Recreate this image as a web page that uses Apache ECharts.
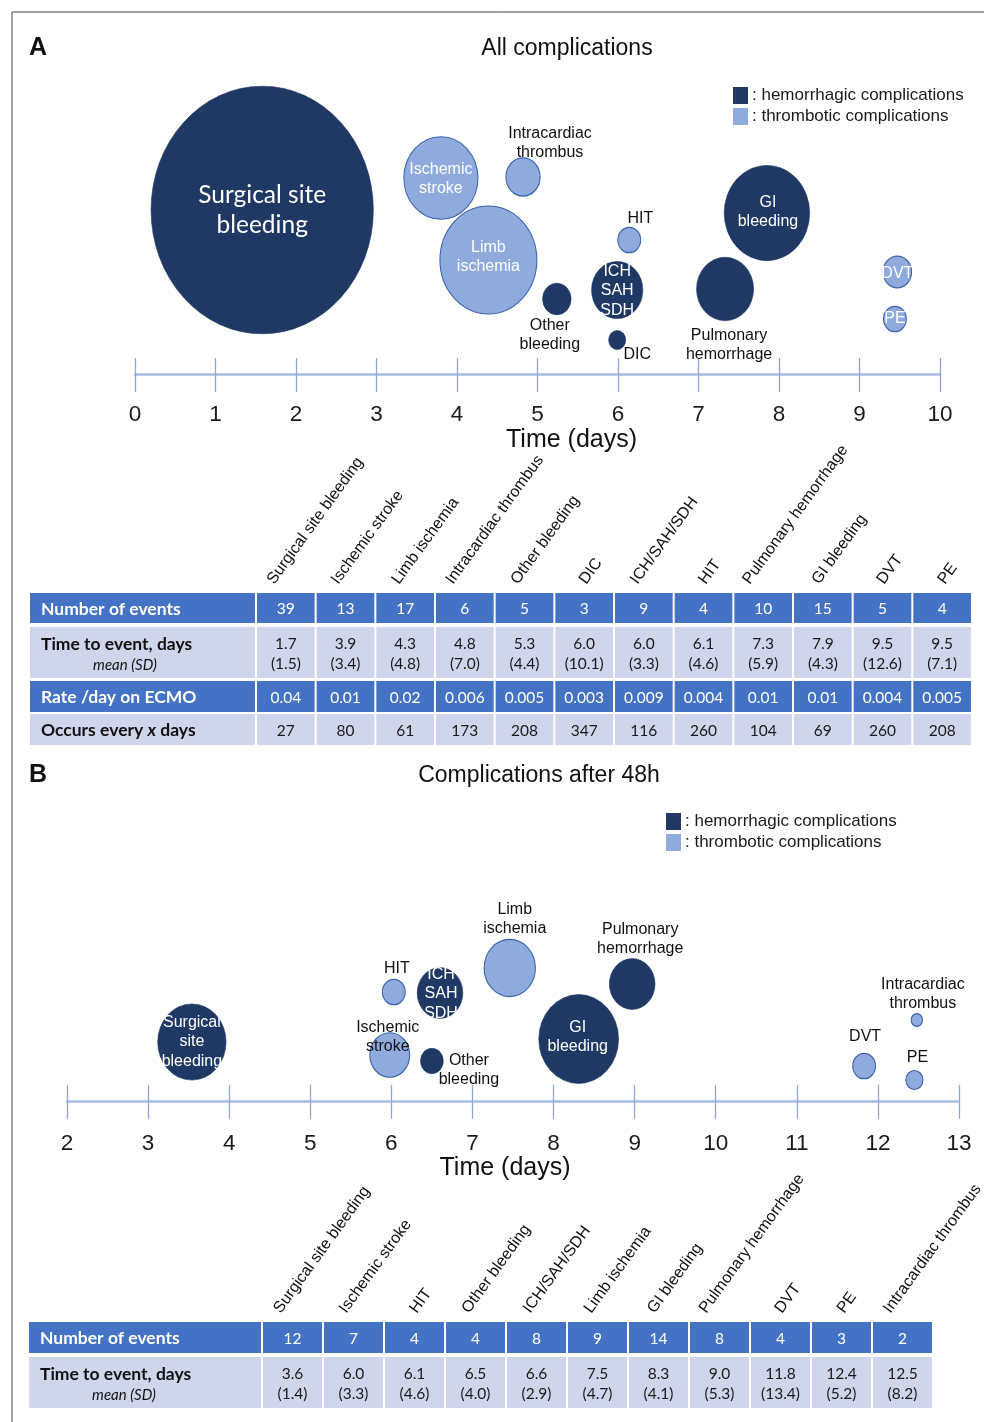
<!DOCTYPE html>
<html><head><meta charset="utf-8">
<script src="https://cdn.jsdelivr.net/npm/echarts@6/dist/echarts.min.js"></script>
<style>html,body{margin:0;padding:0;background:#fff}#c{width:984px;height:1422px}</style>
</head><body><div id="c"></div>
<script>
// ---------------- Panel A: all complications ----------------
const aNames = ['Surgical site bleeding','Ischemic stroke','Limb ischemia','Intracardiac thrombus','Other bleeding','DIC','ICH/SAH/SDH','HIT','Pulmonary hemorrhage','GI bleeding','DVT','PE'];
const aBubbleText = ['Surgical site\nbleeding','Ischemic\nstroke','Limb\nischemia','Intracardiac\nthrombus','Other\nbleeding','DIC','ICH\nSAH\nSDH','HIT','Pulmonary\nhemorrhage','GI\nbleeding','DVT','PE'];
const aType = ['h','t','t','t','h','h','h','t','h','h','t','t'];
const aEvents = [39,13,17,6,5,3,9,4,10,15,5,4];
const aBubbleX = [1.58,3.80,4.39,4.82,5.24,5.99,5.99,6.14,7.33,7.85,9.47,9.44];
const aBubbleY = [164,196,114,197,75,34,84,134,85,161,102,55];
const aMean = ['1.7','3.9','4.3','4.8','5.3','6.0','6.0','6.1','7.3','7.9','9.5','9.5'];
const aSD = ['1.5','3.4','4.8','7.0','4.4','10.1','3.3','4.6','5.9','4.3','12.6','7.1'];
const aRate = ['0.04','0.01','0.02','0.006','0.005','0.003','0.009','0.004','0.01','0.01','0.004','0.005'];
const aEvery = [27,80,61,173,208,347,116,260,104,69,260,208];
const aTicks = [0,10,1];

// ---------------- Panel B: complications after 48h ----------------
const bNames = ['Surgical site bleeding','Ischemic stroke','HIT','Other bleeding','ICH/SAH/SDH','Limb ischemia','GI bleeding','Pulmonary hemorrhage','DVT','PE','Intracardiac thrombus'];
const bBubbleText = ['Surgical\nsite\nbleeding','Ischemic\nstroke','HIT','Other\nbleeding','ICH\nSAH\nSDH','Limb\nischemia','GI\nbleeding','Pulmonary\nhemorrhage','DVT','PE','Intracardiac\nthrombus'];
const bType = ['h','t','t','h','h','t','h','h','t','t','t'];
const bEvents = [12,7,4,4,8,9,14,8,4,3,2];
const bBubbleX = [3.54,5.98,6.03,6.50,6.60,7.46,8.31,8.97,11.83,12.45,12.48];
const bBubbleY = [59,46,109,40,108,133,62,117,35,21,81];
const bMean = ['3.6','6.0','6.1','6.5','6.6','7.5','8.3','9.0','11.8','12.4','12.5'];
const bSD = ['1.4','3.3','4.6','4.0','2.9','4.7','4.1','5.3','13.4','5.2','8.2'];
const bTicks = [2,13,1];

const rowLabels = ['Number of events','Time to event, days','Rate /day on ECMO','Occurs every x days'];
const legendNames = ['hemorrhagic complications','thrombotic complications'];

// ---------------- styles / layout ----------------
const HEM = '#1f3864', THR = '#8faadc', THR_LINE = '#3a62ab';
const BLUE = '#4472c4', LIGHT = '#cfd5ea';
const ARIAL = '"Liberation Sans", Arial, sans-serif';
const CAL = 'Lato, "Open Sans", sans-serif';
const SIZE_W = 5.7, SIZE_H = 6.35;

// label placement relative to bubble centre: [dx, dy, white?]
const aLabelPos = [[0,0,1],[0,1,1],[0,-3,1],[27,-34,0],[-7,36,0],[20,15,0],[0,1,1],[11,-21,0],[4,56,0],[1,-1,1],[0,2,1],[0,0,1]];
const bLabelPos = [[0,0,1],[-2,-18,0],[3,-23,0],[37,9,0],[1,1,1],[5,-49,0],[-1,-2,1],[8,-45,0],[1,-29,0],[3,-22,0],[6,-26,0]];

function bubbleSeries(texts, types, events, xs, ys, pos, xi, yi, bigFirst) {
  return ['h','t'].map(kind => ({
    type: 'scatter',
    name: kind === 'h' ? legendNames[0] : legendNames[1],
    xAxisIndex: xi, yAxisIndex: yi,
    symbol: 'circle',
    z: 3,
    itemStyle: kind === 'h'
      ? {color: HEM, borderColor: HEM, borderWidth: 0.6, opacity: 1}
      : {color: THR, borderColor: THR_LINE, borderWidth: 1.1, opacity: 1},
    emphasis: {disabled: true},
    data: texts.map((t, i) => {
      if (types[i] !== kind) return null;
      const p = pos[i];
      const big = bigFirst && i === 0;
      return {
        value: [xs[i], ys[i]],
        symbolSize: [events[i] * SIZE_W, events[i] * SIZE_H],
        label: {
          show: true, position: 'inside', offset: [p[0], p[1]],
          formatter: t,
          color: p[2] ? '#ffffff' : '#111111',
          fontFamily: big ? CAL : ARIAL,
          fontSize: big ? 24.5 : 16,
          lineHeight: big ? 30 : 19.5,
          align: 'center', verticalAlign: 'middle'
        }
      };
    }).filter(d => d)
  }));
}

const mctx = document.createElement('canvas').getContext('2d');
const HEAD_FONT = '16px ' + ARIAL;
mctx.font = HEAD_FONT;

function rowSeries(gi, names, values, dark, labelLeft, labelKind, header) {
  return {
    type: 'custom', xAxisIndex: gi, yAxisIndex: gi, z: 2,
    data: names.map((n, i) => [i, 0.5]),
    renderItem: function (params, api) {
      const cs = params.coordSys;
      const i = params.dataIndex;
      const c = api.coord([api.value(0), api.value(1)]);
      const bw = api.size([1, 0])[0];
      const fill = dark ? BLUE : LIGHT;
      const ch = [
        {type: 'rect', shape: {x: c[0] - bw / 2 + 1, y: cs.y, width: bw - 2, height: cs.height}, style: {fill: fill}},
        {type: 'text', x: c[0], y: cs.y + cs.height / 2 + 1, style: {
          text: values[i], textAlign: 'center', textVerticalAlign: 'middle',
          fill: dark ? '#ffffff' : '#1a1a1a', font: '15.5px ' + CAL, lineHeight: 20}}
      ];
      if (i === 0) {
        ch.push({type: 'rect', shape: {x: labelLeft, y: cs.y, width: cs.x - labelLeft - 1, height: cs.height}, style: {fill: fill}});
        const tcol = dark ? '#ffffff' : '#111111';
        if (labelKind === 'time') {
          ch.push({type: 'text', x: labelLeft + 11, y: cs.y + 17, style: {text: rowLabels[1], font: 'bold 17.5px ' + CAL, fill: tcol, textAlign: 'left', textVerticalAlign: 'middle'}});
          ch.push({type: 'text', x: labelLeft + 95, y: cs.y + 38.5, style: {text: 'mean (SD)', font: 'italic 15px ' + CAL, fill: tcol, textAlign: 'center', textVerticalAlign: 'middle'}});
        } else if (labelKind === 'every') {
          ch.push({type: 'text', x: labelLeft + 11, y: cs.y + cs.height / 2 + 1, style: {
            text: '{b|Occurs every }{i|x}{b| days}', textAlign: 'left', textVerticalAlign: 'middle',
            rich: {b: {font: 'bold 17.5px ' + CAL, fill: tcol}, i: {font: 'bold italic 17.5px ' + CAL, fill: tcol}}}});
        } else {
          ch.push({type: 'text', x: labelLeft + 11, y: cs.y + cs.height / 2 + 1, style: {text: labelKind, font: 'bold 17.5px ' + CAL, fill: tcol, textAlign: 'left', textVerticalAlign: 'middle'}});
        }
      }
      if (header) {
        const w = mctx.measureText(names[i]).width;
        ch.push({type: 'text', x: c[0] + 8 - 0.11 * w, y: cs.y - 6, rotation: 54 * Math.PI / 180,
          style: {text: names[i], font: HEAD_FONT, fill: '#111111', textAlign: 'left', textVerticalAlign: 'bottom'}});
      }
      return {type: 'group', children: ch};
    }
  };
}

// ---------------- grids ----------------
const grids = [
  {left: 135, right: 44, top: 60, bottom: 1048},      // 0 bubble A (y 60..374)
  {left: 67, right: 25, top: 880, bottom: 321},       // 1 bubble B (y 880..1101)
  {left: 256, right: 12, top: 593, height: 30},       // 2 table A row1
  {left: 256, right: 12, top: 627, height: 51},       // 3 table A row2
  {left: 256, right: 12, top: 681, height: 31},       // 4 table A row3
  {left: 256, right: 12, top: 714, height: 31},       // 5 table A row4
  {left: 262, right: 51, top: 1322, height: 31},      // 6 table B row1
  {left: 262, right: 51, top: 1357, height: 51}       // 7 table B row2
].map(g => Object.assign({containLabel: false, outerBoundsMode: 'none'}, g));

const TICK = '#8ea6d6';
function timeAxes(gi, t, margin, gap, pad) {
  return [
    {type: 'value', gridIndex: gi, position: 'bottom', min: t[0], max: t[1], interval: t[2],
      axisLine: {show: true, lineStyle: {color: '#a9bde4', width: 2.5}},
      axisTick: {show: true, inside: false, length: 18, lineStyle: {color: TICK, width: 1.3}},
      splitLine: {show: false},
      axisLabel: {show: true, margin: margin, fontFamily: ARIAL, fontSize: 22.5, color: '#1a1a1a', verticalAlign: 'top'},
      name: 'Time (days)', nameLocation: 'middle', nameGap: gap,
      nameTextStyle: {fontFamily: ARIAL, fontSize: 25, color: '#111111', padding: pad, verticalAlign: 'top'}},
    {type: 'value', gridIndex: gi, position: 'bottom', offset: 0, min: t[0], max: t[1], interval: t[2],
      axisLine: {show: false}, splitLine: {show: false}, axisLabel: {show: false},
      axisTick: {show: true, inside: true, length: 16, lineStyle: {color: TICK, width: 1.3}}}
  ];
}

const xAxes = [].concat(
  timeAxes(0, aTicks, 29, 54, [0, 0, 0, 68]),
  timeAxes(1, bTicks, 31, 55, [0, 16, 0, 0])
);
// table axes: gridIndex 2..7 -> xAxis index 4..9
const tableX = [];
for (let g = 2; g <= 7; g++) {
  tableX.push({type: 'category', gridIndex: g, data: (g <= 5 ? aNames : bNames), show: false, boundaryGap: true});
}
const allX = xAxes.concat(tableX);
const yAxes = [
  {type: 'value', gridIndex: 0, min: 0, max: 314, show: false},
  {type: 'value', gridIndex: 1, min: 0, max: 221, show: false}
];
for (let g = 2; g <= 7; g++) yAxes.push({type: 'value', gridIndex: g, min: 0, max: 1, show: false});

function rs(g, names, values, dark, labelLeft, kind, header) {
  const s = rowSeries(g, names, values, dark, labelLeft, kind, header);
  s.xAxisIndex = g + 2; s.yAxisIndex = g;
  return s;
}

const series = [].concat(
  bubbleSeries(aBubbleText, aType, aEvents, aBubbleX, aBubbleY, aLabelPos, 0, 0, true),
  bubbleSeries(bBubbleText, bType, bEvents, bBubbleX, bBubbleY, bLabelPos, 2, 1, false),
  [
    rs(2, aNames, aEvents.map(String), true, 30, rowLabels[0], true),
    rs(3, aNames, aMean.map((m, i) => m + '\n(' + aSD[i] + ')'), false, 30, 'time', false),
    rs(4, aNames, aRate, true, 30, rowLabels[2], false),
    rs(5, aNames, aEvery.map(String), false, 30, 'every', false),
    rs(6, bNames, bEvents.map(String), true, 29, rowLabels[0], true),
    rs(7, bNames, bMean.map((m, i) => m + '\n(' + bSD[i] + ')'), false, 29, 'time', false)
  ]
);

function legend(left, top) {
  return {show: true, left: left, top: top, orient: 'vertical', padding: 0,
    itemWidth: 15, itemHeight: 17, itemGap: 4, icon: 'rect', data: legendNames,
    formatter: ': {name}', selectedMode: false,
    itemStyle: {borderWidth: 0},
    textStyle: {fontFamily: ARIAL, fontSize: 17, color: '#1a1a1a', padding: [3, 0, 0, -1]}};
}

const option = {
  animation: false,
  backgroundColor: '#ffffff',
  grid: grids,
  xAxis: allX,
  yAxis: yAxes,
  legend: [legend(733, 87), legend(666, 813)],
  series: series,
  graphic: [
    {type: 'rect', x: 12, y: 12, shape: {x: 0, y: 0, width: 1000, height: 1450}, style: {fill: null, stroke: '#444444', lineWidth: 1}, silent: true},
    {type: 'text', x: 29, y: 48, style: {text: 'A', font: 'bold 25px ' + ARIAL, fill: '#111111', textAlign: 'left', textVerticalAlign: 'middle'}},
    {type: 'text', x: 567, y: 49, style: {text: 'All complications', font: '23px ' + ARIAL, fill: '#111111', textAlign: 'center', textVerticalAlign: 'middle'}},
    {type: 'text', x: 29, y: 775, style: {text: 'B', font: 'bold 25px ' + ARIAL, fill: '#111111', textAlign: 'left', textVerticalAlign: 'middle'}},
    {type: 'text', x: 539, y: 776, style: {text: 'Complications after 48h', font: '23px ' + ARIAL, fill: '#111111', textAlign: 'center', textVerticalAlign: 'middle'}}
  ]
};

const chart = echarts.init(document.getElementById('c'), null, {renderer: 'canvas'});
chart.setOption(option);
</script>
</body></html>
